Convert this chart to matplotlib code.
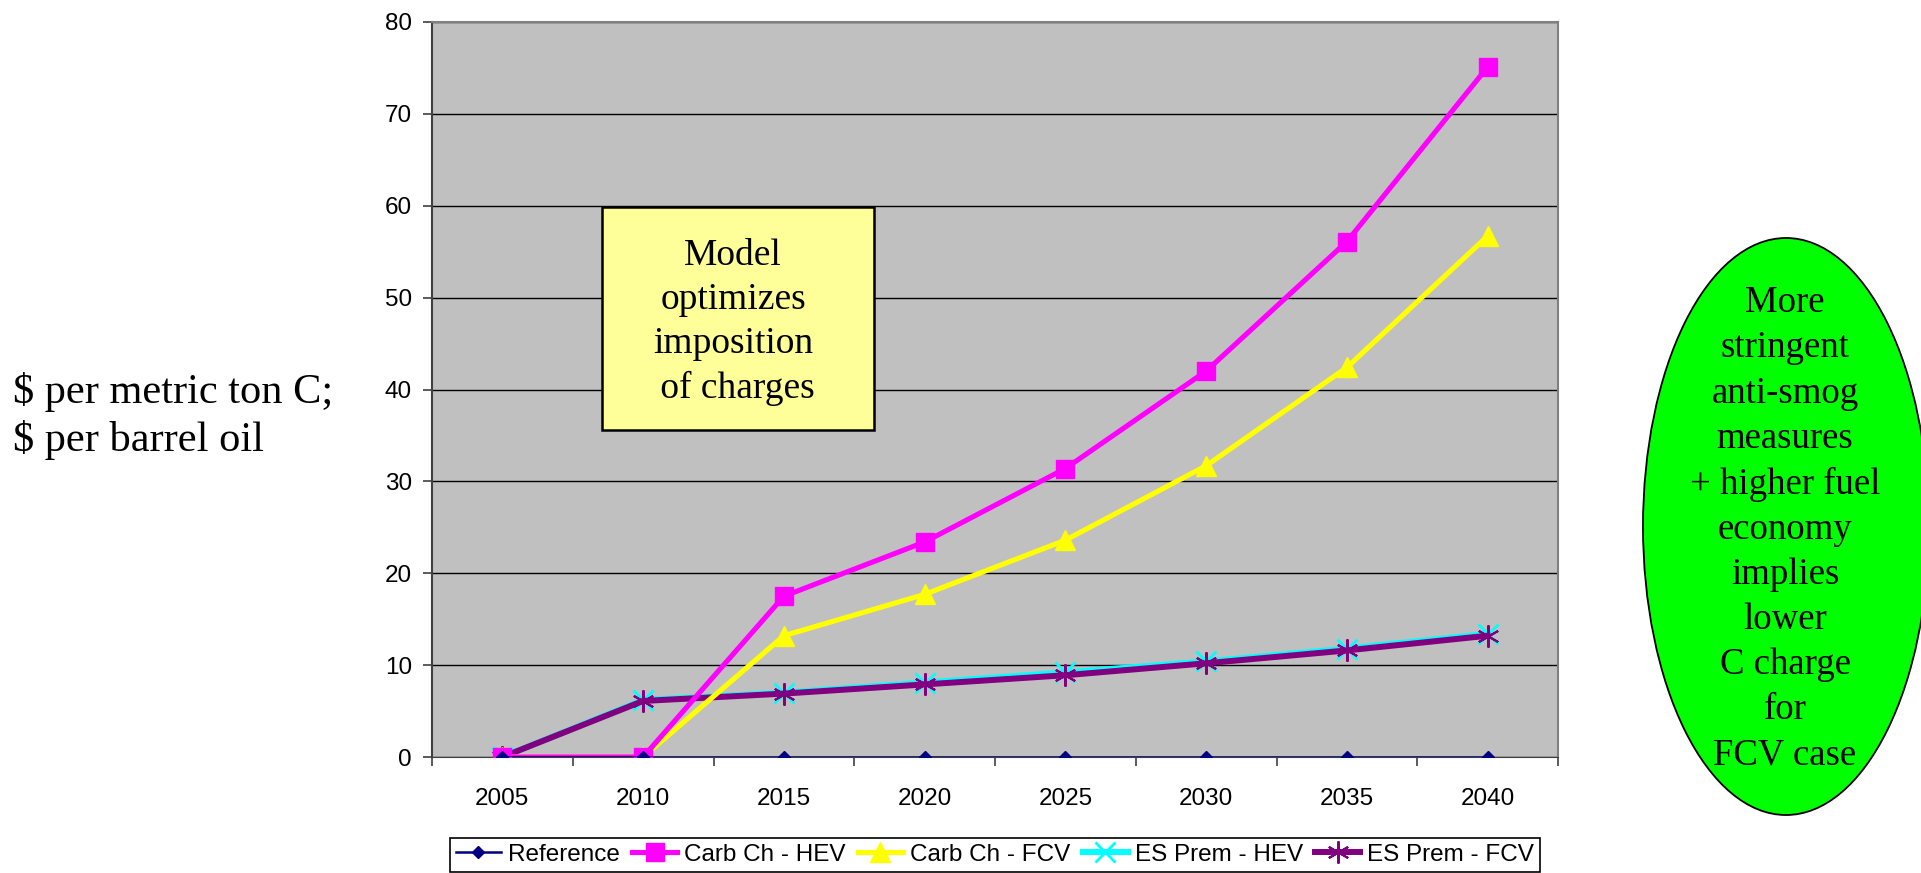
import matplotlib
matplotlib.use("Agg")
import matplotlib.pyplot as plt
from matplotlib.patches import Rectangle, Ellipse
from matplotlib.ticker import FixedLocator

# data
years = ["2005", "2010", "2015", "2020", "2025", "2030", "2035", "2040"]
reference = [0, 0, 0, 0, 0, 0, 0, 0]
carb_hev = [0, 0, 17.5, 23.4, 31.4, 42.0, 56.1, 75.1]
carb_fcv = [0, 0, 13.2, 17.7, 23.6, 31.7, 42.4, 56.7]
es_hev = [0, 6.2, 7.0, 8.1, 9.2, 10.4, 11.8, 13.4]
es_fcv = [0, 6.1, 6.9, 7.9, 8.9, 10.2, 11.6, 13.2]

W, H = 1921, 873
fig = plt.figure(figsize=(W / 100, H / 100), dpi=100)
ax = fig.add_axes([432 / W, 1 - 757 / H, (1558 - 432) / W, (757 - 22) / H])
ax.set_facecolor("#C0C0C0")

x = list(range(len(years)))
ax.plot(x, es_hev, color="#00FFFF", lw=4.3, marker="x", ms=14, mew=2, label="ES Prem - HEV", zorder=3)
ax.plot(x, es_fcv, color="#800080", lw=4.3, marker=(6, 2, 0), ms=16, mew=1.5,
        mec="#800080", label="ES Prem - FCV", zorder=4)
ax.plot(x, carb_fcv, color="#FFFF00", lw=3.7, marker="^", ms=14.5, label="Carb Ch - FCV", zorder=5)
ax.plot(x, carb_hev, color="#FF00FF", lw=3.7, marker="s", ms=13, label="Carb Ch - HEV", zorder=6)
ax.plot(x, reference, color="#000080", lw=1.8, marker="D", ms=6, label="Reference", zorder=7)

ax.set_xlim(-0.5, len(years) - 0.5)
ax.set_ylim(0, 80)
ax.set_yticks(range(0, 81, 10))
ax.grid(axis="y", color="black", lw=1)
ax.set_axisbelow(True)

# category ticks at boundaries, labels at centers
ax.xaxis.set_major_locator(FixedLocator([i - 0.5 for i in range(len(years) + 1)]))
ax.xaxis.set_major_formatter(plt.NullFormatter())
ax.xaxis.set_minor_locator(FixedLocator(x))
ax.set_xticklabels(years, minor=True)
ax.tick_params(axis="x", which="major", direction="out", length=6.5, width=1.2, color="#404040")
ax.tick_params(axis="x", which="minor", length=0, pad=22)
ax.tick_params(axis="y", direction="out", length=6.5, width=1.2, color="#404040", pad=8)
for lab in ax.get_xticklabels(minor=True) + ax.get_yticklabels():
    lab.set_fontfamily("Liberation Sans")
    lab.set_fontsize(17.5)

for s in ["top", "right"]:
    ax.spines[s].set_color("#808080")
    ax.spines[s].set_linewidth(1.5)
ax.spines["left"].set_color("#404040")
ax.spines["left"].set_linewidth(1.5)
ax.spines["bottom"].set_color("#404040")

handles, labels = ax.get_legend_handles_labels()
order = [4, 3, 2, 0, 1]
leg = fig.legend([handles[i] for i in order], [labels[i] for i in order],
                 loc="lower center", bbox_to_anchor=(995 / W, 1 / H), ncol=5,
                 prop={"family": "Liberation Sans", "size": 17.5},
                 frameon=True, fancybox=False, edgecolor="black", framealpha=1,
                 handlelength=1.85, handletextpad=0.3, columnspacing=0.5,
                 borderpad=0.25, borderaxespad=0)
leg.get_frame().set_linewidth(1.2)

fig.text(13 / W, 1 - 416 / H, "\\$ per metric ton C;\n\\$ per barrel oil",
         family="Liberation Serif", fontsize=30.5, ha="left", va="center", linespacing=1.29)

fig.patches.append(Rectangle((602 / W, 1 - 430 / H), (874 - 602) / W, (430 - 207) / H,
                             transform=fig.transFigure, facecolor="#FFFF99",
                             edgecolor="black", lw=1.8, zorder=10))
fig.text(733 / W, 1 - 322 / H, "Model\noptimizes\nimposition\n of charges",
         family="Liberation Serif", fontsize=27, ha="center", va="center",
         linespacing=1.36, zorder=11)

fig.patches.append(Ellipse((1786 / W, 1 - 526.5 / H), 286 / W, 577 / H,
                           transform=fig.transFigure, facecolor="#00FF00",
                           edgecolor="black", lw=1.3, zorder=10))
fig.text(1785 / W, 1 - 529 / H,
         "More\nstringent\nanti-smog\nmeasures\n+ higher fuel\neconomy\nimplies\nlower\nC charge\nfor\nFCV case",
         family="Liberation Serif", fontsize=26.5, ha="center", va="center",
         linespacing=1.40, zorder=11)

fig.savefig("out.png", dpi=100)
